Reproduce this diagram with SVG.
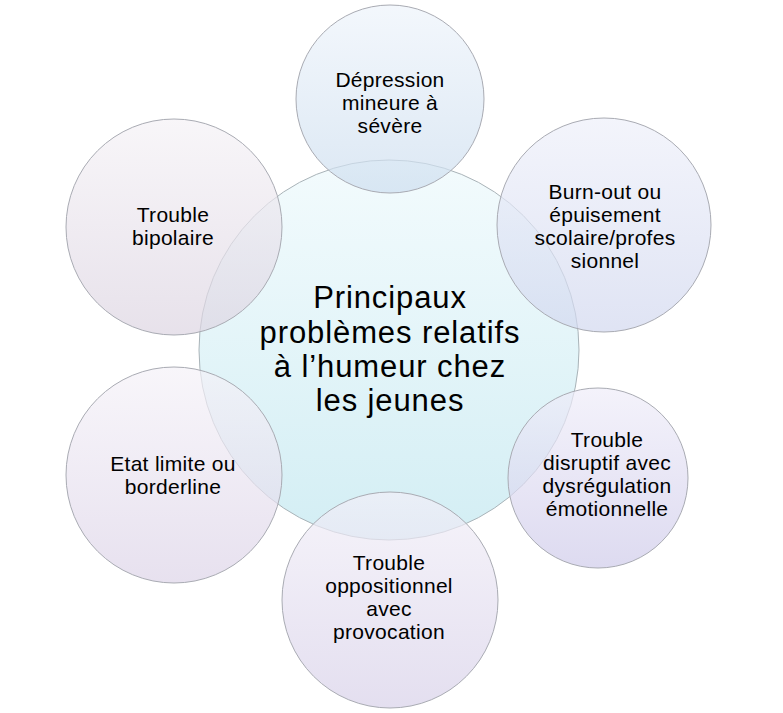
<svg xmlns="http://www.w3.org/2000/svg" width="783" height="713" viewBox="0 0 783 713">
<style>
.sat{fill-opacity:0.7;stroke:#a9abb3;stroke-width:1}
.ctr{stroke:#a9b3b8;stroke-width:1}
text{font-family:"Liberation Sans",Arial,sans-serif;fill:#000;text-anchor:middle}
.s{font-size:21px;letter-spacing:0.3px}
.c{font-size:31px;letter-spacing:0.9px}
</style>
<defs>
<linearGradient id="gC" x1="0" y1="0" x2="0" y2="1"><stop offset="0" stop-color="#f3fbfd"/><stop offset="1" stop-color="#d3eef4"/></linearGradient>
<linearGradient id="g1" x1="0" y1="0" x2="0" y2="1"><stop offset="0" stop-color="#eef4fb"/><stop offset="1" stop-color="#cddeef"/></linearGradient>
<linearGradient id="g2" x1="0" y1="0" x2="0" y2="1"><stop offset="0" stop-color="#eef0fa"/><stop offset="1" stop-color="#d2d8ef"/></linearGradient>
<linearGradient id="g3" x1="0" y1="0" x2="0" y2="1"><stop offset="0" stop-color="#efedf9"/><stop offset="1" stop-color="#cfcbea"/></linearGradient>
<linearGradient id="g4" x1="0" y1="0" x2="0" y2="1"><stop offset="0" stop-color="#f2eff8"/><stop offset="1" stop-color="#d8d1e9"/></linearGradient>
<linearGradient id="g5" x1="0" y1="0" x2="0" y2="1"><stop offset="0" stop-color="#f5f2f8"/><stop offset="1" stop-color="#ddd4e8"/></linearGradient>
<linearGradient id="g6" x1="0" y1="0" x2="0" y2="1"><stop offset="0" stop-color="#f5f2f6"/><stop offset="1" stop-color="#ddd5e2"/></linearGradient>
</defs>
<g id="center">
<circle class="ctr" cx="389" cy="350" r="190" fill="url(#gC)"/>
</g>
<g id="depression">
<circle class="sat" cx="390" cy="99" r="94" fill="url(#g1)"/>
<text class="s" x="390" y="87">Dépression</text>
<text class="s" x="390" y="110">mineure à</text>
<text class="s" x="390" y="133">sévère</text>
</g>
<g id="burnout">
<circle class="sat" cx="604" cy="225" r="107" fill="url(#g2)"/>
<text class="s" x="605" y="199">Burn-out ou</text>
<text class="s" x="605" y="222">épuisement</text>
<text class="s" x="605" y="245">scolaire/profes</text>
<text class="s" x="605" y="268">sionnel</text>
</g>
<g id="disruptif">
<circle class="sat" cx="598" cy="478" r="90" fill="url(#g3)"/>
<text class="s" x="607" y="447">Trouble</text>
<text class="s" x="607" y="470">disruptif avec</text>
<text class="s" x="607" y="493">dysrégulation</text>
<text class="s" x="607" y="516">émotionnelle</text>
</g>
<g id="oppositionnel">
<circle class="sat" cx="390" cy="600" r="108" fill="url(#g4)"/>
<text class="s" x="389" y="570">Trouble</text>
<text class="s" x="389" y="593">oppositionnel</text>
<text class="s" x="389" y="616">avec</text>
<text class="s" x="389" y="639">provocation</text>
</g>
<g id="etat-limite">
<circle class="sat" cx="174" cy="475" r="108" fill="url(#g5)"/>
<text class="s" x="173" y="471">Etat limite ou</text>
<text class="s" x="173" y="494">borderline</text>
</g>
<g id="bipolaire">
<circle class="sat" cx="174" cy="227" r="108" fill="url(#g6)"/>
<text class="s" x="173" y="222">Trouble</text>
<text class="s" x="173" y="245">bipolaire</text>
</g>
<g id="center-label">
<text class="c" x="390" y="308">Principaux</text>
<text class="c" x="390" y="343">problèmes relatifs</text>
<text class="c" x="390" y="377">à l’humeur chez</text>
<text class="c" x="390" y="411">les jeunes</text>
</g>
<g id="connectors"/>
</svg>
